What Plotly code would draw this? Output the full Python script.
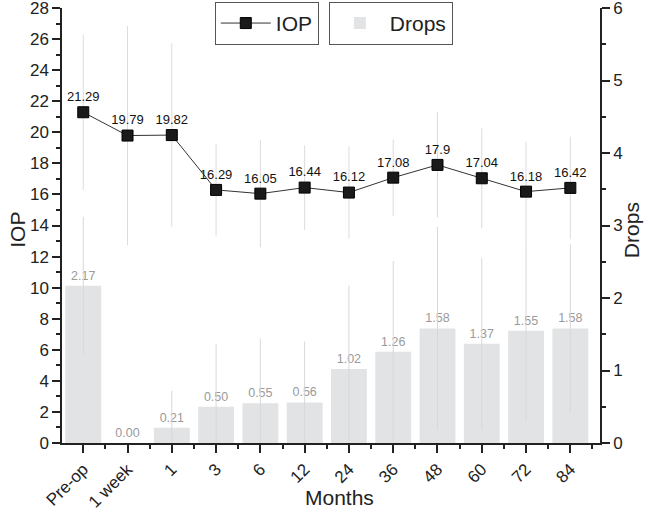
import plotly.graph_objects as go

categories = ["Pre-op", "1 week", "1", "3", "6", "12", "24", "36", "48", "60", "72", "84"]
iop_mean = [21.29, 19.79, 19.82, 16.29, 16.05, 16.44, 16.12, 17.08, 17.9, 17.04, 16.18, 16.42]
iop_sd = [5.0, 7.05, 5.9, 2.95, 3.45, 2.72, 2.97, 2.46, 3.38, 3.22, 3.21, 3.3]
drops_mean = [2.17, 0.00, 0.21, 0.50, 0.55, 0.56, 1.02, 1.26, 1.58, 1.37, 1.55, 1.58]
drops_sd = [0.95, 0.0, 0.51, 0.86, 0.89, 0.84, 1.15, 1.25, 1.4, 1.18, 1.23, 1.16]

x_pos = list(range(len(categories)))
font_fam = "Liberation Sans, Arial, sans-serif"

fig = go.Figure()

fig.add_trace(go.Bar(
    x=x_pos, y=drops_mean, name="Drops", yaxis="y", width=0.81,
    marker=dict(color="#e2e3e5", line=dict(width=0)),
    error_y=dict(type="data", array=drops_sd,
                 arrayminus=[min(s, m) for s, m in zip(drops_sd, drops_mean)],
                 color="#d8d8d8", thickness=1, width=0),
    text=[f"{v:.2f}" for v in drops_mean], textposition="outside",
    textfont=dict(color="#9a9a9a", size=12.5, family=font_fam),
    cliponaxis=False, legend="legend2",
))

fig.add_trace(go.Scatter(
    x=x_pos, y=iop_mean, name="IOP", yaxis="y2", mode="lines+markers+text",
    line=dict(color="#333333", width=1),
    marker=dict(symbol="square", size=11, color="#1a1a1a", line=dict(color="#000", width=1)),
    error_y=dict(type="data", array=iop_sd, color="#dcdcdc", thickness=1, width=0),
    text=[f"{v:g}" for v in iop_mean], textposition="top center",
    textfont=dict(color="#111111", size=13, family=font_fam),
    cliponaxis=False, legend="legend",
))

axis_common = dict(showline=True, linecolor="#222", linewidth=1.5, ticks="outside",
                   tickcolor="#222", tickwidth=1.5, showgrid=False, zeroline=False,
                   automargin=False, ticklabeloverflow="allow",
                   tickfont=dict(size=17, color="#222", family=font_fam))

fig.update_layout(
    width=650, height=513,
    margin=dict(l=62, r=50, t=8, b=70, autoexpand=False),
    plot_bgcolor="white", paper_bgcolor="white",
    font=dict(family=font_fam, color="#222"),
    xaxis=dict(**axis_common, range=[-0.48, 11.67], tickmode="array", tickvals=x_pos,
               ticktext=categories, tickangle=-45, ticklen=8,
               minor=dict(ticks="outside", ticklen=4, tick0=0.5, dtick=1, tickcolor="#222", tickwidth=1.5)),
    yaxis=dict(**axis_common, side="right", range=[0, 6], dtick=1, ticklen=8,
               minor=dict(ticks="outside", ticklen=4, dtick=0.5, tickcolor="#222", tickwidth=1.5)),
    yaxis2=dict(**axis_common, side="left", overlaying="y", range=[0, 28], dtick=2, ticklen=8,
                minor=dict(ticks="outside", ticklen=4, dtick=1, tickcolor="#222", tickwidth=1.5)),
    legend=dict(x=0.284, y=1.014, xanchor="left", yanchor="top", bordercolor="#555",
                borderwidth=1, bgcolor="white", font=dict(size=21, family=font_fam),
                itemwidth=50, tracegroupgap=0),
    legend2=dict(x=0.496, y=1.014, xanchor="left", yanchor="top", bordercolor="#555",
                 borderwidth=1, bgcolor="white", font=dict(size=21, family=font_fam),
                 itemwidth=50, tracegroupgap=0),
    showlegend=True,
    annotations=[
        dict(text="Months", xref="paper", yref="paper", x=0.515, y=-0.125,
             xanchor="center", yanchor="middle", showarrow=False,
             font=dict(size=21, family=font_fam, color="#222")),
        dict(text="IOP", xref="paper", yref="paper", x=-0.082, y=0.49,
             xanchor="center", yanchor="middle", showarrow=False, textangle=-90,
             font=dict(size=21, family=font_fam, color="#222")),
        dict(text="Drops", xref="paper", yref="paper", x=1.06, y=0.49,
             xanchor="center", yanchor="middle", showarrow=False, textangle=-90,
             font=dict(size=21, family=font_fam, color="#222")),
    ],
)

fig.write_html("out.html", config={"displayModeBar": False},
               post_script="document.body.style.margin='0';document.body.style.overflow='hidden';")
